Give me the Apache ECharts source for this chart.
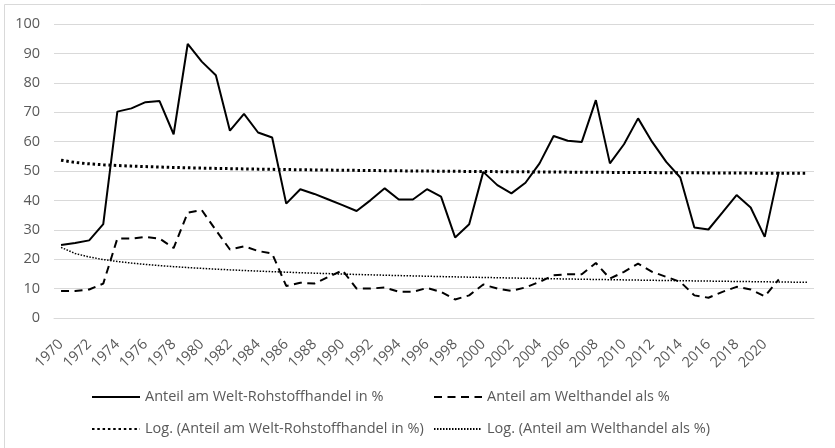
<!DOCTYPE html>
<html lang="de" style="height: 100%">
<head>
    <meta charset="utf-8"/>
    <meta name="viewport" content="width=device-width, initial-scale=1.0"/>
</head>
<body style="height: 100%; margin: 0; overflow: hidden; background: #fff">
<div id="container" style="height: 100%"></div>

<script type="text/javascript" src="https://cdn.jsdelivr.net/npm/echarts@6/dist/echarts.min.js"></script>

<script type="text/javascript">
    // Jahre mit Daten, danach zwei leere Kategorien (Trend-Prognose)
    var years = [];
    for (var y = 1970; y <= 2021; y++) years.push(String(y));
    var categories = years.concat(["", ""]);

    var rohstoff = [
        24.8, 25.5, 26.4, 31.9, 70.2, 71.3, 73.4, 73.8, 62.5, 93.2,
        87.2, 82.6, 63.7, 69.4, 63.1, 61.4, 38.9, 43.8, 42.2, 40.3,
        38.4, 36.4, 40.1, 44.1, 40.3, 40.3, 43.8, 41.3, 27.4, 31.9,
        49.7, 45.2, 42.4, 46.0, 52.6, 61.9, 60.3, 59.9, 74.1, 52.6,
        59.1, 67.9, 59.9, 53.1, 47.8, 30.8, 30.1, 35.9, 41.8, 37.6,
        27.6, 49.7
    ];
    var welthandel = [
        9.2, 9.2, 9.7, 11.7, 27.0, 27.0, 27.6, 27.0, 23.8, 35.8,
        36.7, 29.9, 23.3, 24.4, 22.8, 21.9, 10.9, 12.0, 11.7, 14.0,
        16.2, 10.0, 10.0, 10.4, 8.9, 8.9, 10.2, 8.9, 6.3, 7.7,
        11.4, 10.0, 9.2, 10.4, 12.3, 14.5, 14.9, 14.9, 18.7, 13.4,
        15.7, 18.5, 15.7, 14.0, 12.3, 7.7, 6.9, 8.9, 10.6, 9.7,
        7.4, 13.1
    ];

    var names = [
        "Anteil am Welt-Rohstoffhandel in %",
        "Anteil am Welthandel als %",
        "Log. (Anteil am Welt-Rohstoffhandel in %)",
        "Log. (Anteil am Welthandel als %)"
    ];

    // logarithmische Trendlinie wie in Excel: y = a + b*ln(x), x = 1..n
    function logTrend(vals, n) {
        var lx = vals.map(function (v, i) { return Math.log(i + 1); });
        var mx = lx.reduce(function (s, v) { return s + v; }, 0) / vals.length;
        var my = vals.reduce(function (s, v) { return s + v; }, 0) / vals.length;
        var sxy = 0, sxx = 0;
        for (var i = 0; i < vals.length; i++) {
            sxy += (lx[i] - mx) * (vals[i] - my);
            sxx += (lx[i] - mx) * (lx[i] - mx);
        }
        var b = sxy / sxx, a = my - b * mx;
        var out = [];
        for (var k = 1; k <= n; k++) out.push(+(a + b * Math.log(k)).toFixed(3));
        return out;
    }

    var FONT = "Open Sans";
    var TXT = "#595959";

    var dom = document.getElementById("container");
    var myChart = echarts.init(dom, null, {renderer: "canvas"});

    var legendBase = {
        orient: "vertical",
        top: 384,
        itemWidth: 48, itemHeight: 16, itemGap: 16,
        itemStyle: {opacity: 0},
        textStyle: {color: TXT, fontSize: 14.5, fontFamily: FONT, lineHeight: 16}
    };

    var option = {
        animation: false,
        textStyle: {fontFamily: FONT},
        graphic: [{
            type: "rect",
            shape: {x: 4.5, y: 4.5, width: 840, height: 450},
            style: {fill: "none", stroke: "#d9d9d9", lineWidth: 1},
            silent: true
        }],
        grid: {left: 54, right: 21, top: 24, bottom: 130, containLabel: false},
        legend: [
            Object.assign({}, legendBase, {left: 86, data: [names[0], names[2]]}),
            Object.assign({}, legendBase, {left: 428, data: [names[1], names[3]]})
        ],
        xAxis: {
            type: "category",
            data: categories,
            boundaryGap: true,
            axisLine: {lineStyle: {color: "#d9d9d9"}},
            axisTick: {show: false},
            axisLabel: {
                interval: 1,
                rotate: 45,
                margin: 24,
                color: TXT,
                fontSize: 14.5,
                fontFamily: FONT
            }
        },
        yAxis: {
            type: "value",
            min: 0, max: 100, interval: 10,
            axisLine: {show: false},
            axisTick: {show: false},
            splitLine: {lineStyle: {color: "#d9d9d9", width: 1}},
            axisLabel: {color: TXT, fontSize: 14.5, fontFamily: FONT, margin: 14}
        },
        series: [
            {
                name: names[0], type: "line", data: rohstoff,
                symbol: "none", color: "#000",
                lineStyle: {color: "#000", width: 2}
            },
            {
                name: names[1], type: "line", data: welthandel,
                symbol: "none", color: "#000",
                lineStyle: {color: "#000", width: 2, type: [8, 5.5]}
            },
            {
                name: names[2], type: "line", data: logTrend(rohstoff, categories.length),
                symbol: "none", color: "#000",
                lineStyle: {color: "#000", width: 3, type: [2.5, 2.8]}
            },
            {
                name: names[3], type: "line", data: logTrend(welthandel, categories.length),
                symbol: "none", color: "#000",
                lineStyle: {color: "#000", width: 1.5, type: [1.5, 1.5]}
            }
        ]
    };

    myChart.setOption(option);
    window.addEventListener("resize", myChart.resize);
</script>
</body>
</html>
